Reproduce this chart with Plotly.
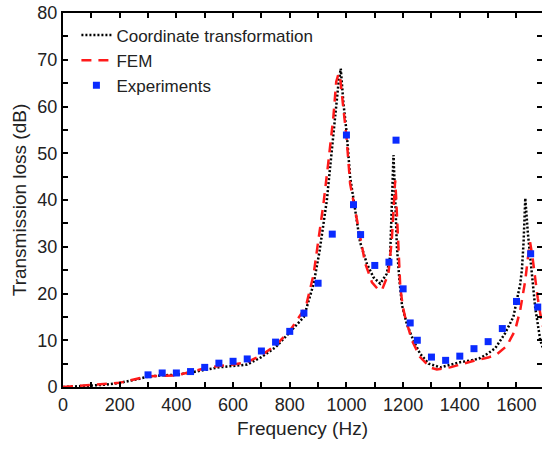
import plotly.graph_objects as go

# Coordinate transformation (black dotted)
ct_freq = [0, 50, 100, 150, 200, 250, 300, 350, 400, 450, 500, 550, 600, 650, 700,
           750, 800, 850, 884, 905, 931, 954, 972, 980, 989, 1001, 1013, 1031, 1048,
           1072, 1095, 1119, 1142, 1154, 1160, 1166, 1172, 1178, 1187, 1196, 1213,
           1236, 1260, 1290, 1331, 1401, 1450, 1472, 1500, 1525, 1560, 1589, 1613,
           1619, 1625, 1631, 1640, 1649, 1657, 1666, 1675, 1684, 1692]
ct_tl = [0, 0.1, 0.3, 0.5, 0.9, 1.5, 2.2, 2.5, 2.6, 3.1, 3.7, 4.2, 4.5, 4.8, 6.4,
         8.5, 11.7, 15.0, 22.0, 29.0, 40.0, 54.2, 65.0, 68.1, 61.0, 54.2, 44.9, 37.8, 31.0,
         26.4, 23.5, 22.1, 24.2, 27.8, 37.1, 49.6, 40.6, 30.0, 22.8, 17.5, 13.5,
         10.0, 7.1, 5.0, 4.2, 5.3, 5.8, 6.2, 7.2, 8.3, 11.5, 15.0, 22.0,
         25.0, 31.0, 40.4, 33.0, 27.0, 22.0, 17.0, 13.5, 10.0, 8.5]

# FEM (red dashed)
fem_freq = [0, 50, 100, 150, 200, 250, 300, 350, 400, 450, 500, 550, 600, 650, 700,
            750, 800, 850, 860, 884, 901, 919, 937, 954, 964, 972, 978, 984, 1001, 1013,
            1031, 1050, 1066, 1090, 1110, 1125, 1148, 1160, 1169, 1172, 1175, 1178, 1184,
            1190, 1199, 1207, 1231, 1260, 1295, 1319, 1366, 1425, 1450, 1500, 1531, 1566,
            1595, 1613, 1631, 1640, 1648, 1656, 1666, 1675, 1684, 1692]
fem_tl = [0, 0.2, 0.4, 0.6, 0.9, 1.6, 2.3, 2.4, 2.5, 3.2, 4.0, 4.5, 4.8, 5.3, 6.8,
          8.9, 12.0, 16.5, 18.0, 24.0, 31.4, 39.2, 48.5, 57.8, 65.3, 67.0, 66.0, 62.8, 53.0, 43.5,
          37.5, 31.0, 26.5, 22.4, 21.0, 20.7, 24.2, 31.4, 40.6, 44.2, 41.0, 36.4, 28.5,
          21.4, 17.1, 15.0, 10.0, 6.4, 4.2, 3.75, 4.2, 5.3, 5.6, 6.3, 7.0, 8.8,
          12.1, 16.4, 22.8, 27.5, 31.0, 28.0, 22.8, 19.0, 15.7, 13.0]

# Experiments (blue squares)
exp_freq = [300, 350, 400, 450, 500, 550, 600, 650, 700, 750, 800, 850, 900, 950,
            1000, 1025, 1050, 1100, 1150, 1175, 1200, 1225, 1250, 1300, 1350, 1400,
            1450, 1500, 1550, 1600, 1650, 1675]
exp_tl = [2.6, 3.0, 3.0, 3.3, 4.2, 5.1, 5.5, 6.0, 7.7, 9.6, 11.9, 15.8, 22.2, 32.7,
          53.9, 39.0, 32.6, 26.0, 26.7, 52.8, 21.0, 13.7, 10.0, 6.4, 5.7, 6.6,
          8.2, 9.7, 12.5, 18.3, 28.5, 17.1]

x_ticks = [0, 200, 400, 600, 800, 1000, 1200, 1400, 1600]
y_ticks = [0, 10, 20, 30, 40, 50, 60, 70, 80]

FONT = "Liberation Sans, Arial, sans-serif"

fig = go.Figure()
fig.add_trace(go.Scatter(x=ct_freq, y=ct_tl, mode="lines", name="Coordinate transformation",
                         line=dict(color="black", width=2.5, dash="2px,2px")))
fig.add_trace(go.Scatter(x=fem_freq, y=fem_tl, mode="lines", name="FEM",
                         line=dict(color="#ff1a1a", width=2.5, dash="10px,7px")))
fig.add_trace(go.Scatter(x=exp_freq, y=exp_tl, mode="markers", name="Experiments",
                         marker=dict(color="#0a2bff", size=7, symbol="square")))
# invisible trace to carry right-side ticks (no axis line)
fig.add_trace(go.Scatter(x=[0], y=[0], yaxis="y2", mode="markers",
                         marker=dict(opacity=0), showlegend=False, hoverinfo="skip"))

axis_common = dict(showgrid=False, zeroline=False, ticks="inside", ticklen=5, tickwidth=2,
                   tickcolor="black", linecolor="black", linewidth=2, showline=True,
                   tickfont=dict(family=FONT, size=18, color="#222"))

fig.update_layout(
    width=542, height=449,
    margin=dict(l=63, r=0, t=13, b=62),
    paper_bgcolor="white", plot_bgcolor="white",
    font=dict(family=FONT, color="#222"),
    showlegend=True,
    legend=dict(x=0.028, y=0.988, xanchor="left", yanchor="top",
                bgcolor="rgba(0,0,0,0)", font=dict(family=FONT, size=17, color="#222"),
                tracegroupgap=0, itemwidth=30),
    xaxis=dict(range=[0, 1690], tickvals=x_ticks, ticktext=[str(v) for v in x_ticks],
               mirror="ticks",
               minor=dict(dtick=100, ticks="inside", ticklen=5, tickwidth=2, tickcolor="black"),
               title=dict(text="Frequency (Hz)", font=dict(family=FONT, size=19, color="#222"),
                          standoff=8),
               **axis_common),
    yaxis=dict(range=[0, 80], tickvals=y_ticks, ticktext=[str(v) for v in y_ticks],
               minor=dict(dtick=5, ticks="inside", ticklen=5, tickwidth=2, tickcolor="black"),
               title=dict(text="Transmission loss (dB)", font=dict(family=FONT, size=19, color="#222"),
                          standoff=6),
               **axis_common),
    yaxis2=dict(range=[0, 80], overlaying="y", side="right", showgrid=False, zeroline=False,
                showline=False, showticklabels=False, ticks="inside", ticklen=5, tickwidth=2,
                tickcolor="black", tickvals=y_ticks,
                minor=dict(dtick=5, ticks="inside", ticklen=5, tickwidth=2, tickcolor="black")),
)

fig.write_html("out.html")
